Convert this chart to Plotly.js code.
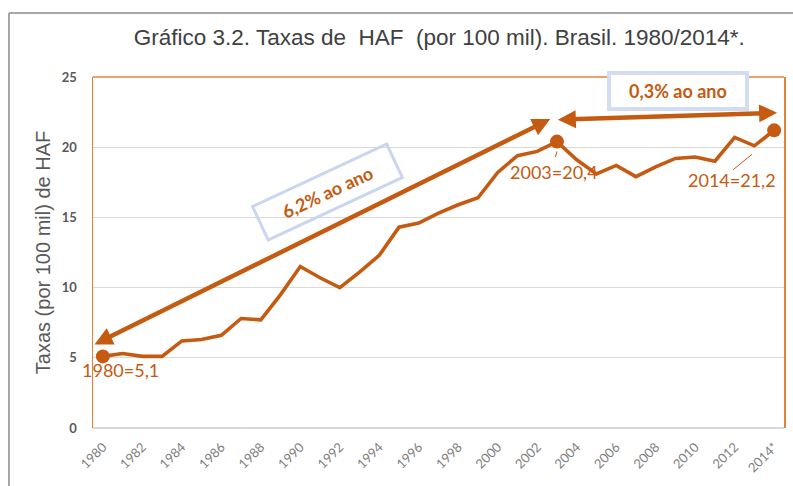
<!DOCTYPE html>
<html>
<head>
<meta charset="utf-8">
<script src="https://cdn.plot.ly/plotly-3.0.1.min.js"></script>
<style>html,body{margin:0;padding:0;background:#fff;}#chart{width:793px;height:486px;}</style>
</head>
<body>
<div id="chart"></div>
<script>
// ---- data ----
var years = [1980,1981,1982,1983,1984,1985,1986,1987,1988,1989,1990,1991,1992,1993,1994,1995,1996,1997,1998,1999,2000,2001,2002,2003,2004,2005,2006,2007,2008,2009,2010,2011,2012,2013,2014];
var rates = [5.1,5.3,5.1,5.1,6.2,6.3,6.6,7.8,7.7,9.5,11.5,10.7,10.0,11.1,12.3,14.3,14.6,15.3,15.9,16.4,18.2,19.4,19.7,20.4,19.1,18.1,18.7,17.9,18.6,19.2,19.3,19.0,20.7,20.1,21.2];
var tickYears = [1980,1982,1984,1986,1988,1990,1992,1994,1996,1998,2000,2002,2004,2006,2008,2010,2012,2014];
var tickLabels = ["1980","1982","1984","1986","1988","1990","1992","1994","1996","1998","2000","2002","2004","2006","2008","2010","2012","2014*"];
var highlightYears = [1980,2003,2014];
var growthLabels = ["6,2% ao ano","0,3% ao ano"];

var highlightValues = highlightYears.map(function(y){ return rates[years.indexOf(y)]; });
function fmt(v){ return String(v.toFixed(1)).replace('.', ','); }
var pointLabels = highlightYears.map(function(y,i){ return y + "=" + fmt(highlightValues[i]); });

var C = '#C55A11';
var traces = [
  {x: years, y: rates, type: 'scatter', mode: 'lines', line: {color: C, width: 3.6}, hoverinfo: 'skip'},
  {x: highlightYears, y: highlightValues, type: 'scatter', mode: 'markers', marker: {color: C, size: 14}, hoverinfo: 'skip'}
];

var labelPos = [[1980.9, 4.1], [2002.85, 18.25], [2011.86, 17.65]];
var annotations = pointLabels.map(function(t,i){
  return {x: labelPos[i][0], y: labelPos[i][1], xref:'x', yref:'y', text: t, showarrow:false,
          font:{family:'Lato, Open Sans, sans-serif', size:18, color:C}};
});
// arrows
annotations.push({x:2002.66, y:22.0, ax:1979.5, ay:5.9, xref:'x', yref:'y', axref:'x', ayref:'y',
  text:'', showarrow:true, arrowhead:2, arrowside:'end+start', arrowsize:0.8, arrowwidth:4.5, arrowcolor:C, standoff:0, startstandoff:0});
annotations.push({x:2014.15, y:22.45, ax:2002.97, ay:21.95, xref:'x', yref:'y', axref:'x', ayref:'y',
  text:'', showarrow:true, arrowhead:2, arrowside:'end+start', arrowsize:0.8, arrowwidth:4.5, arrowcolor:C, standoff:0, startstandoff:0});
// growth boxes
annotations.push({x:1991.38, y:16.8, xref:'x', yref:'y', text:'\u00a0\u00a0\u00a0\u00a0'+growthLabels[0]+'\u00a0\u00a0\u00a0\u00a0', showarrow:false, textangle:-25,
  font:{family:'Lato, Open Sans, sans-serif', size:18, color:C, weight:'bold'}, bordercolor:'#C9D6EE', borderwidth:3, borderpad:6, bgcolor:'rgba(255,255,255,0)'});
annotations.push({x:2009.12, y:24.0, xref:'x', yref:'y', text:'\u00a0\u00a0\u00a0'+growthLabels[1]+'\u00a0\u00a0\u00a0', showarrow:false,
  font:{family:'Lato, Open Sans, sans-serif', size:18, color:C, weight:'bold'}, bordercolor:'#D3DDF1', borderwidth:4, borderpad:5, bgcolor:'#ffffff'});

var shapes = [
  // plot top border (orange)
  {type:'line', xref:'paper', yref:'paper', x0:0, x1:1, y0:1, y1:1, line:{color:'#E2823C', width:1.5}, layer:'below'},
  // outer grey frame
  {type:'line', xref:'paper', yref:'paper', x0:-0.1216, x1:1.02, y0:1.1823, y1:1.1823, line:{color:'#A6A6A6', width:2}},
  {type:'line', xref:'paper', yref:'paper', x0:-0.1216, x1:-0.1216, y0:1.1823, y1:-0.2, line:{color:'#A6A6A6', width:2}},
  // leader lines
  {type:'line', xref:'x', yref:'y', x0:2003.0, x1:2002.92, y0:19.7, y1:19.3, line:{color:C, width:1}},
  {type:'line', xref:'x', yref:'y', x0:2011.93, x1:2012.88, y0:18.4, y1:19.5, line:{color:C, width:1}}
];

var layout = {
  width: 793, height: 486,
  margin: {l:93, r:9, t:77, b:58},
  paper_bgcolor:'#ffffff', plot_bgcolor:'#ffffff',
  showlegend:false,
  title: {text:'Gráfico 3.2. Taxas de \u00a0HAF \u00a0(por 100 mil). Brasil. 1980/2014*.',
          font:{family:'Liberation Sans, Arial, sans-serif', size:22.5, color:'#404040'},
          x:0.554, xref:'container', y:0.924, yref:'container', xanchor:'center', yanchor:'middle'},
  xaxis: {type:'linear', range:[1979.5, 2014.5], tickmode:'array', tickvals:tickYears, ticktext:tickLabels,
          tickangle:-45, tickfont:{family:'Lato, Open Sans, sans-serif', size:13, color:'#7F7F7F'},
          showgrid:false, zeroline:false, showline:false, ticks:'', ticklabelstandoff:8, fixedrange:true},
  yaxis: {range:[0,25], dtick:5, tick0:0, showgrid:true, gridcolor:'#D9D9D9', gridwidth:1,
          zeroline:true, zerolinecolor:'#D9D9D9', zerolinewidth:1.5,
          showline:true, linecolor:'#E2823C', linewidth:1.5, mirror:true, ticks:'',
          tickfont:{family:'Lato, Open Sans, sans-serif', size:13, color:'#595959', weight:'bold'},
          ticklabelstandoff:12,
          title:{text:'Taxas (por 100 mil) de HAF', font:{family:'Liberation Sans, Arial, sans-serif', size:20, color:'#595959'}, standoff:6},
          fixedrange:true},
  annotations: annotations,
  shapes: shapes
};

Plotly.newPlot('chart', traces, layout, {displayModeBar:false, staticPlot:true});
</script>
</body>
</html>
